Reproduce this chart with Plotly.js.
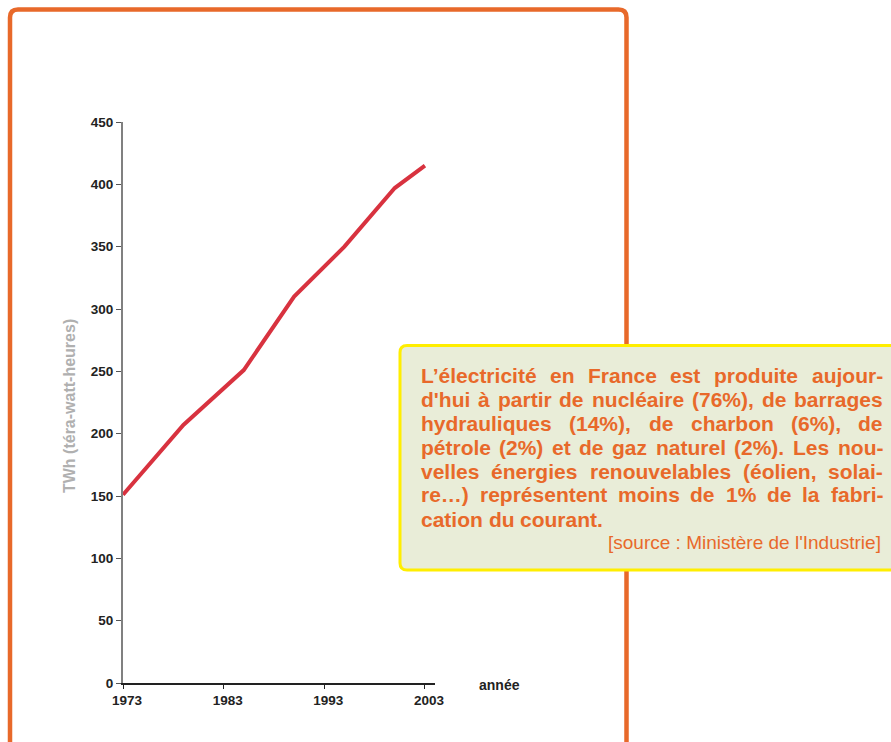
<!DOCTYPE html>
<html>
<head>
<meta charset="utf-8">
<script src="https://cdn.plot.ly/plotly-3.0.1.min.js"></script>
<style>html,body{margin:0;padding:0;background:#fff;}#chart{width:891px;height:742px;}</style>
</head>
<body>
<div id="chart"></div>
<script>
// ---- data ----
const years = [1973, 1979, 1985, 1990, 1995, 2000, 2003];
const twh = [151, 207, 251, 310, 350, 397, 415];
const xTickVals = [1973, 1983, 1993, 2003];
const yTickVals = [0, 50, 100, 150, 200, 250, 300, 350, 400, 450];
const yTitle = "TWh (téra-watt-heures)";
const xTitle = "année";
const noteLines = [
  "L’électricité en France est produite aujour-",
  "d'hui à partir de nucléaire (76%), de barrages",
  "hydrauliques (14%), de charbon (6%), de",
  "pétrole (2%) et de gaz naturel (2%). Les nou-",
  "velles énergies renouvelables (éolien, solai-",
  "re…) représentent moins de 1% de la fabri-",
  "cation du courant."
];
const noteSource = "[source : Ministère de l'Industrie]";

// ---- layout geometry ----
const W = 891, H = 742;
const M = {l: 123, r: 456, t: 122, b: 59};
const PW = W - M.l - M.r, PH = H - M.t - M.b;
const px = x => (x - M.l) / PW;
const py = y => (H - M.b - y) / PH;
const FONT = "Liberation Sans, Arial, Helvetica, sans-serif";
const ORANGE = "#E8692A";

// frame (rounded, open at bottom)
const fr = {l: 10, t: 9.5, r: 626.5, b: 780, rad: 8};
const framePath = `M ${px(fr.l)},${py(fr.b)} L ${px(fr.l)},${py(fr.t + fr.rad)} Q ${px(fr.l)},${py(fr.t)} ${px(fr.l + fr.rad)},${py(fr.t)} L ${px(fr.r - fr.rad)},${py(fr.t)} Q ${px(fr.r)},${py(fr.t)} ${px(fr.r)},${py(fr.t + fr.rad)} L ${px(fr.r)},${py(fr.b)}`;

// note box
const bx = {l: 400, t: 345.5, r: 910, b: 570, rad: 7};
const boxPath = `M ${px(bx.l)},${py(bx.t + bx.rad)} Q ${px(bx.l)},${py(bx.t)} ${px(bx.l + bx.rad)},${py(bx.t)} L ${px(bx.r)},${py(bx.t)} L ${px(bx.r)},${py(bx.b)} L ${px(bx.l + bx.rad)},${py(bx.b)} Q ${px(bx.l)},${py(bx.b)} ${px(bx.l)},${py(bx.b - bx.rad)} Z`;

// justified text words
const textL = 420, textR = 882, firstMid = 375, lineStep = 24, noteSize = 21;
const cv = document.createElement('canvas').getContext('2d');
cv.font = `bold ${noteSize}px "Liberation Sans"`;
const annotations = [];
noteLines.forEach((line, i) => {
  const words = line.split(' ');
  const ws = words.map(w => cv.measureText(w).width);
  const sum = ws.reduce((a, b) => a + b, 0);
  const last = i === noteLines.length - 1;
  const gap = last ? cv.measureText(' ').width : (textR - textL - sum) / (words.length - 1);
  let x = textL;
  words.forEach((w, k) => {
    annotations.push({
      text: w, xref: 'paper', yref: 'paper', x: px(x), y: py(firstMid + i * lineStep),
      xanchor: 'left', yanchor: 'middle', showarrow: false, borderpad: 0,
      font: {family: FONT, size: noteSize, color: ORANGE, weight: 'bold'}
    });
    x += ws[k] + gap;
  });
});
annotations.push({
  text: noteSource, xref: 'paper', yref: 'paper', x: px(textR), y: py(542),
  xanchor: 'right', yanchor: 'middle', showarrow: false, borderpad: 0,
  font: {family: FONT, size: 19, color: ORANGE}
});
annotations.push({
  text: yTitle, xref: 'paper', yref: 'paper', x: px(69), y: py(406), textangle: -90,
  xanchor: 'center', yanchor: 'middle', showarrow: false,
  font: {family: FONT, size: 16, color: '#b0b0b0', weight: 'bold'}
});
annotations.push({
  text: xTitle, xref: 'paper', yref: 'paper', x: px(478), y: py(685),
  xanchor: 'left', yanchor: 'middle', showarrow: false, borderpad: 0,
  font: {family: FONT, size: 14, color: '#222', weight: 'bold'}
});

const trace = {
  x: years, y: twh, type: 'scatter', mode: 'lines',
  line: {color: '#D8323F', width: 4}, hoverinfo: 'skip'
};

const layout = {
  width: W, height: H, margin: M,
  paper_bgcolor: '#fff', plot_bgcolor: '#fff', showlegend: false,
  xaxis: {
    range: [1973, 2004], tickvals: xTickVals, ticktext: xTickVals.map(String),
    ticks: 'outside', ticklen: 4, tickwidth: 1, tickcolor: '#222',
    showline: true, linecolor: '#222', linewidth: 1.5,
    showgrid: false, zeroline: false, ticklabelshift: 4,
    tickfont: {family: FONT, size: 13.5, color: '#222', weight: 'bold'}
  },
  yaxis: {
    range: [0, 450], tickvals: yTickVals,
    ticks: 'outside', ticklen: 5, tickwidth: 1, tickcolor: '#555',
    showline: true, linecolor: '#808080', linewidth: 2,
    showgrid: false, zeroline: false,
    tickfont: {family: FONT, size: 13.5, color: '#222', weight: 'bold'}
  },
  shapes: [
    {type: 'path', xref: 'paper', yref: 'paper', path: framePath, layer: 'above',
     line: {color: ORANGE, width: 4.5}},
    {type: 'path', xref: 'paper', yref: 'paper', path: boxPath, layer: 'above',
     fillcolor: '#E9EDD8', line: {color: '#FFEE00', width: 3}}
  ],
  annotations: annotations
};

Plotly.newPlot('chart', [trace], layout, {displayModeBar: false, staticPlot: true});
</script>
</body>
</html>
